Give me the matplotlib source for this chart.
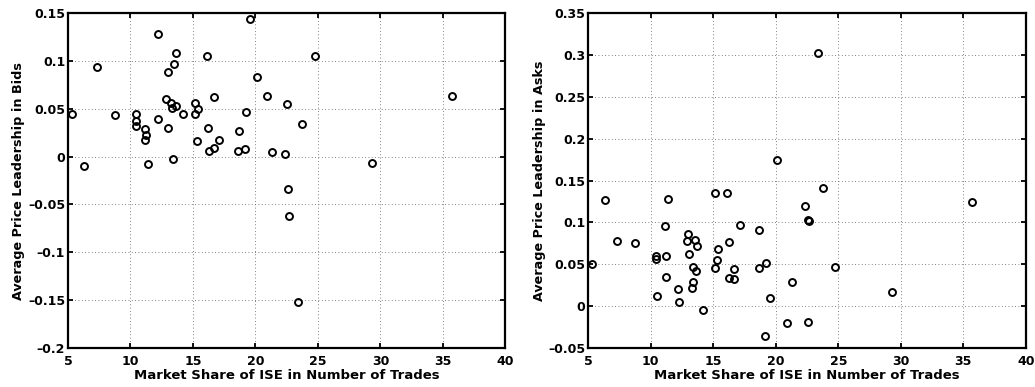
import matplotlib
matplotlib.use("Agg")
import matplotlib.pyplot as plt

# market share of ISE (percent of trades) per stock
market_share = [5.33, 6.30, 7.33, 8.75, 10.43, 10.45, 10.48, 11.15, 11.20, 11.23,
                11.40, 12.17, 12.22, 12.86, 13.01, 13.03, 13.26, 13.34, 13.39, 13.50,
                13.63, 13.67, 14.19, 15.15, 15.16, 15.31, 15.39, 16.09, 16.22, 16.27,
                16.66, 16.67, 17.10, 18.62, 18.65, 19.15, 19.25, 19.56, 20.10, 20.89,
                21.29, 22.35, 22.54, 22.61, 22.67, 23.37, 23.76, 24.75, 29.32, 35.73]

# average price leadership, bid side
lead_bids = [0.0446, -0.0099, 0.0943, 0.0440, 0.0325, 0.0377, 0.0447, 0.0178, 0.0293, 0.0223,
             -0.0081, 0.1290, 0.0391, 0.0608, 0.0883, 0.0300, 0.0559, 0.0510, -0.0025, 0.0975,
             0.1086, 0.0530, 0.0443, 0.0562, 0.0451, 0.0164, 0.0500, 0.1059, 0.0300, 0.0059,
             0.0094, 0.0622, 0.0178, 0.0063, 0.0268, 0.0080, 0.0468, 0.1446, 0.0839, 0.0639,
             0.0048, 0.0027, 0.0556, -0.0343, -0.0619, -0.1520, 0.0342, 0.1054, -0.0063, 0.0635]

# average price leadership, ask side
lead_asks = [0.0506, 0.1270, 0.0781, 0.0757, 0.0593, 0.0566, 0.0123, 0.0960, 0.0350, 0.0598,
             0.1275, 0.0203, 0.0043, 0.0773, 0.0865, 0.0626, 0.0215, 0.0462, 0.0283, 0.0790,
             0.0422, 0.0717, -0.0048, 0.0455, 0.1347, 0.0550, 0.0686, 0.1347, 0.0766, 0.0335,
             0.0443, 0.0323, 0.0973, 0.0905, 0.0455, -0.0355, 0.0510, 0.0091, 0.1746, -0.0208,
             0.0291, 0.1192, 0.1029, -0.0191, 0.1012, 0.3030, 0.1415, 0.0466, 0.0167, 0.1248]

xticks = [5, 10, 15, 20, 25, 30, 35, 40]
bid_ticks = [-0.2, -0.15, -0.1, -0.05, 0, 0.05, 0.1, 0.15]
ask_ticks = [-0.05, 0, 0.05, 0.1, 0.15, 0.2, 0.25, 0.3, 0.35]

plt.rcParams['font.family'] = ['DejaVu Sans']
plt.rcParams['font.weight'] = 'bold'

fig = plt.figure(figsize=(10.35, 3.87), dpi=100)
ax1 = fig.add_axes([0.0657, 0.1016, 0.4227, 0.8636])
ax2 = fig.add_axes([0.5684, 0.1016, 0.4227, 0.8636])


def fmt(v):
    s = ('%g' % v)
    return s.replace('-', '\u2013')


panels = [(ax1, lead_bids, bid_ticks, 'Average Price Leadership in Bids'),
          (ax2, lead_asks, ask_ticks, 'Average Price Leadership in Asks')]

for ax, y, yt, lab in panels:
    ax.plot(market_share, y, 'o', mfc='none', mec='black', ms=5, mew=1.4, zorder=3)
    ax.set_xlim(5, 40)
    ax.set_ylim(yt[0], yt[-1])
    ax.set_xticks(xticks)
    ax.set_yticks(yt)
    ax.set_xticklabels([fmt(v) for v in xticks])
    ax.set_yticklabels([fmt(v) for v in yt])
    ax.grid(True, linestyle=(0, (1, 3)), linewidth=0.6, color='0.35')
    ax.tick_params(direction='in', top=True, right=True, length=3.5, width=1.3,
                   labelsize=9, pad=2)
    ax.tick_params(axis='x', pad=5.5)
    for sp in ax.spines.values():
        sp.set_linewidth(1.6)
    ax.set_xlabel('Market Share of ISE in Number of Trades', fontsize=9.5,
                  fontweight='bold', labelpad=0.5)
    ax.set_ylabel(lab, fontsize=9.2, fontweight='bold', labelpad=2)

fig.savefig('out.png', dpi=100)
